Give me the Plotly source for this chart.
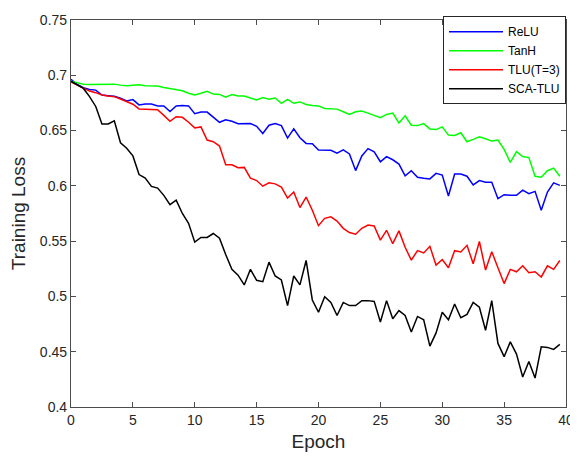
import plotly.graph_objects as go

epochs = [i * 0.5 for i in range(80)]

relu = [
    0.6964, 0.6917, 0.6887, 0.6872, 0.6866, 0.6822, 0.6816, 0.6810, 0.6792, 0.6768,
    0.6780, 0.6732, 0.6741, 0.6741, 0.6723, 0.6723, 0.6673, 0.6723, 0.6726, 0.6723,
    0.6652, 0.6667, 0.6667, 0.6622, 0.6575, 0.6598, 0.6584, 0.6562, 0.6563, 0.6563,
    0.6539, 0.6473, 0.6548, 0.6563, 0.6545, 0.6432, 0.6515, 0.6435, 0.6384, 0.6381,
    0.6325, 0.6321, 0.6321, 0.6295, 0.6325, 0.6289, 0.6138, 0.6271, 0.6337, 0.6307,
    0.6218, 0.6265, 0.6236, 0.6197, 0.6090, 0.6137, 0.6078, 0.6069, 0.6063, 0.6113,
    0.6098, 0.5908, 0.6107, 0.6107, 0.6087, 0.6009, 0.6048, 0.6033, 0.6033, 0.5884,
    0.5920, 0.5914, 0.5914, 0.5962, 0.5929, 0.5950, 0.5780, 0.5944, 0.6027, 0.6004,
]

tanh = [
    0.6946, 0.6930, 0.6920, 0.6917, 0.6917, 0.6914, 0.6917, 0.6920, 0.6911, 0.6905,
    0.6911, 0.6914, 0.6905, 0.6902, 0.6902, 0.6890, 0.6878, 0.6866, 0.6860, 0.6837,
    0.6822, 0.6837, 0.6855, 0.6830, 0.6827, 0.6801, 0.6825, 0.6813, 0.6813, 0.6795,
    0.6777, 0.6798, 0.6783, 0.6795, 0.6747, 0.6783, 0.6747, 0.6759, 0.6736, 0.6727,
    0.6723, 0.6700, 0.6700, 0.6694, 0.6670, 0.6646, 0.6670, 0.6676, 0.6658, 0.6640,
    0.6616, 0.6646, 0.6658, 0.6569, 0.6634, 0.6548, 0.6545, 0.6563, 0.6515, 0.6509,
    0.6533, 0.6459, 0.6455, 0.6480, 0.6399, 0.6420, 0.6444, 0.6426, 0.6405, 0.6414,
    0.6330, 0.6212, 0.6310, 0.6265, 0.6256, 0.6087, 0.6078, 0.6137, 0.6161, 0.6087,
]

tlu = [
    0.6941, 0.6911, 0.6881, 0.6857, 0.6843, 0.6822, 0.6813, 0.6807, 0.6786, 0.6762,
    0.6738, 0.6696, 0.6693, 0.6694, 0.6688, 0.6637, 0.6584, 0.6625, 0.6620, 0.6575,
    0.6524, 0.6533, 0.6414, 0.6399, 0.6360, 0.6191, 0.6191, 0.6164, 0.6167, 0.6069,
    0.6048, 0.5997, 0.6027, 0.6018, 0.5988, 0.5890, 0.5944, 0.5804, 0.5899, 0.5780,
    0.5640, 0.5706, 0.5720, 0.5682, 0.5616, 0.5578, 0.5563, 0.5616, 0.5646, 0.5637,
    0.5509, 0.5598, 0.5477, 0.5593, 0.5445, 0.5328, 0.5414, 0.5393, 0.5453, 0.5283,
    0.5334, 0.5259, 0.5414, 0.5402, 0.5462, 0.5295, 0.5497, 0.5238, 0.5405, 0.5259,
    0.5116, 0.5245, 0.5223, 0.5277, 0.5214, 0.5223, 0.5176, 0.5277, 0.5245, 0.5325,
]

sca_tlu = [
    0.6946, 0.6911, 0.6881, 0.6807, 0.6718, 0.6560, 0.6560, 0.6589, 0.6390, 0.6340,
    0.6271, 0.6102, 0.6071, 0.5995, 0.5980, 0.5914, 0.5830, 0.5870, 0.5750, 0.5661,
    0.5491, 0.5533, 0.5533, 0.5569, 0.5527, 0.5379, 0.5245, 0.5192, 0.5104, 0.5245,
    0.5146, 0.5134, 0.5310, 0.5185, 0.5149, 0.4917, 0.5185, 0.5104, 0.5325, 0.4968,
    0.4857, 0.4997, 0.4946, 0.4828, 0.4946, 0.4917, 0.4917, 0.4962, 0.4962, 0.4955,
    0.4768, 0.4962, 0.4798, 0.4872, 0.4828, 0.4679, 0.4819, 0.4789, 0.4551, 0.4670,
    0.4857, 0.4789, 0.4932, 0.4807, 0.4837, 0.4946, 0.4902, 0.4694, 0.4962, 0.4575,
    0.4455, 0.4589, 0.4479, 0.4271, 0.4411, 0.4262, 0.4545, 0.4539, 0.4521, 0.4566,
]

series_names = ["ReLU", "TanH", "TLU(T=3)", "SCA-TLU"]
series_values = [relu, tanh, tlu, sca_tlu]
series_colors = ["#0000FF", "#00FF00", "#FF0000", "#000000"]

x_ticks = [0, 5, 10, 15, 20, 25, 30, 35, 40]
y_ticks = [0.4, 0.45, 0.5, 0.55, 0.6, 0.65, 0.7, 0.75]
y_tick_labels = ["0.4", "0.45", "0.5", "0.55", "0.6", "0.65", "0.7", "0.75"]

fig = go.Figure()
for name, vals, col in zip(series_names, series_values, series_colors):
    fig.add_trace(go.Scatter(x=epochs, y=vals, mode="lines", name=name,
                             line=dict(color=col, width=1.5)))

axis_col = "#4d4d4d"
font_family = "Liberation Sans, Arial, sans-serif"

# the page adds an 8px body margin, so the figure is sized to fit inside the window
fig.update_layout(
    width=570, height=444,
    margin=dict(l=63, r=12, t=8, b=45),
    paper_bgcolor="white", plot_bgcolor="white",
    font=dict(family=font_family, color="#262626", size=14),
    showlegend=True,
    legend=dict(x=1, y=1.01, xanchor="right", yanchor="top",
                bgcolor="white", bordercolor="#262626", borderwidth=1,
                font=dict(family=font_family, size=12, color="#000000"),
                itemwidth=54, tracegroupgap=0),
)
fig.update_xaxes(
    range=[0, 40], tickvals=x_ticks, ticks="inside", ticklen=5, tickcolor=axis_col,
    showline=True, linecolor=axis_col, linewidth=1.2, mirror="ticks",
    showgrid=False, zeroline=False, automargin=False, ticklabeloverflow="allow",
    title=dict(text="Epoch", font=dict(size=19, color="#262626"), standoff=12),
    tickfont=dict(size=14, color="#262626"),
)
fig.update_yaxes(
    range=[0.4, 0.75], tickvals=y_ticks, ticktext=y_tick_labels,
    ticks="inside", ticklen=5, tickcolor=axis_col,
    showline=True, linecolor=axis_col, linewidth=1.2, mirror="ticks",
    showgrid=False, zeroline=False, automargin=False,
    title=dict(text="Training Loss", font=dict(size=19, color="#262626"), standoff=10),
    tickfont=dict(size=14, color="#262626"),
)

fig.write_html("out.html")
